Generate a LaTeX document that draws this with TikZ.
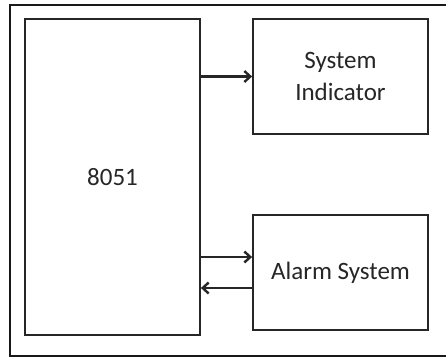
\documentclass[tikz,border=0pt]{standalone}
\usepackage{fontspec}
\setmainfont{Carlito}
\usetikzlibrary{calc,arrows.meta}
\tikzset{
	block/.style={draw=black!85, line width=1.8pt, minimum width=175pt, inner sep=0pt, align=center, font=\fontsize{25}{32}\selectfont, text=black!85},
	sigarrow/.style={draw=black!85, line width=2.4pt, -{Straight Barb[length=6pt,width=11pt]}}
}
\begin{document}
\begin{tikzpicture}[x=1pt, y=-1pt]
	% page 446 x 357
	\useasboundingbox (0,0) rectangle (446,357);
	\draw[line width=2pt, black!90] (9.5,4.5) rectangle (447,356);
	
	% blocks
	\node[block, minimum height=316pt] (chip) at (112.5,177) {8051};
	\node[block, minimum height=115pt] (ind) at (340.5,76.5) {System\\Indicator};
	\node[block, minimum height=115pt] (alarm) at (340.5,272.5) {Alarm System};
	
	% signals
	\draw[sigarrow] (ind.west -| chip.east) -- (ind.west);
	\draw[sigarrow] ([yshift=15.5pt]alarm.west -| chip.east) -- ([yshift=15.5pt]alarm.west);
	\draw[sigarrow] ([yshift=-15.5pt]alarm.west) -- ([yshift=-15.5pt]alarm.west -| chip.east);
\end{tikzpicture}
\end{document}
